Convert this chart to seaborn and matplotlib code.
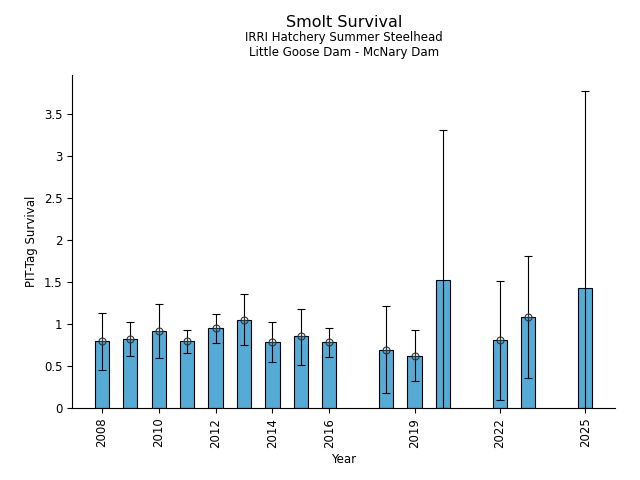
import numpy as np
import pandas as pd
import matplotlib
matplotlib.use("Agg")
import matplotlib.pyplot as plt
from matplotlib.ticker import FuncFormatter
import seaborn as sns

# Data
years = [2008, 2009, 2010, 2011, 2012, 2013, 2014, 2015, 2016, 2018, 2019, 2020, 2022, 2023, 2025]
survival = [0.80, 0.82, 0.92, 0.80, 0.95, 1.05, 0.79, 0.85, 0.79, 0.69, 0.62, 1.52, 0.81, 1.08, 1.43]
ci_upper = [1.13, 1.02, 1.24, 0.93, 1.12, 1.35, 1.02, 1.18, 0.95, 1.21, 0.93, 3.31, 1.51, 1.81, 3.77]
ci_lower = [0.45, 0.62, 0.60, 0.65, 0.77, 0.75, 0.55, 0.51, 0.61, 0.18, 0.32, 0.00, 0.10, 0.36, 0.00]
show_marker = [True] * 11 + [False, True, True, False]
tick_years = [2008, 2010, 2012, 2014, 2016, 2019, 2022, 2025]

df = pd.DataFrame({"Year": years, "Survival": survival,
                   "lo": ci_lower, "hi": ci_upper, "mark": show_marker})

sns.set_style("ticks")
plt.rcParams['font.family'] = ['DejaVu Sans']
plt.rcParams['text.color'] = 'black'
plt.rcParams['axes.labelcolor'] = 'black'
plt.rcParams['xtick.color'] = 'black'
plt.rcParams['ytick.color'] = 'black'
plt.rcParams['axes.edgecolor'] = 'black'

fig = plt.figure(figsize=(6.4, 4.8), dpi=100)
ax = fig.add_axes([0.1125, 0.15, 0.8485, 0.694])

sns.barplot(data=df, x="Year", y="Survival", native_scale=True, width=0.5,
            color="#56aad6", saturation=1, edgecolor="black", linewidth=0.8,
            errorbar=None, ax=ax)

yerr = np.array([df["Survival"] - df["lo"], df["hi"] - df["Survival"]])
ax.errorbar(df["Year"], df["Survival"], yerr=yerr, fmt="none",
            ecolor="black", elinewidth=0.8, capsize=3, capthick=0.8, zorder=3)

m = df[df["mark"]]
ax.plot(m["Year"], m["Survival"], "o", mfc="none", mec="#333333", ms=5, mew=0.8, zorder=4)
ax.plot(m["Year"], m["Survival"], "+", color="#333333", ms=5, mew=0.8, zorder=4)

ax.set_xlim(2006.95, 2026.05)
ax.set_ylim(0, 3.96)
ax.set_xticks(tick_years)
ax.set_xticklabels([str(y) for y in tick_years], rotation=90, fontsize=8.5)
ax.set_yticks(np.arange(0, 3.6, 0.5))
ax.yaxis.set_major_formatter(FuncFormatter(lambda v, p: f"{v:g}"))
ax.tick_params(axis="y", labelsize=8.5)
ax.set_xlabel("Year", fontsize=8.5)
ax.set_ylabel("PIT-Tag Survival", fontsize=8.5)
sns.despine(ax=ax)

fig.text(0.5375, 0.953, "Smolt Survival", ha="center", va="center", fontsize=11.5)
fig.text(0.5375, 0.921, "IRRI Hatchery Summer Steelhead", ha="center", va="center", fontsize=8.5)
fig.text(0.5375, 0.891, "Little Goose Dam - McNary Dam", ha="center", va="center", fontsize=8.5)

fig.savefig("out.png", dpi=100)
